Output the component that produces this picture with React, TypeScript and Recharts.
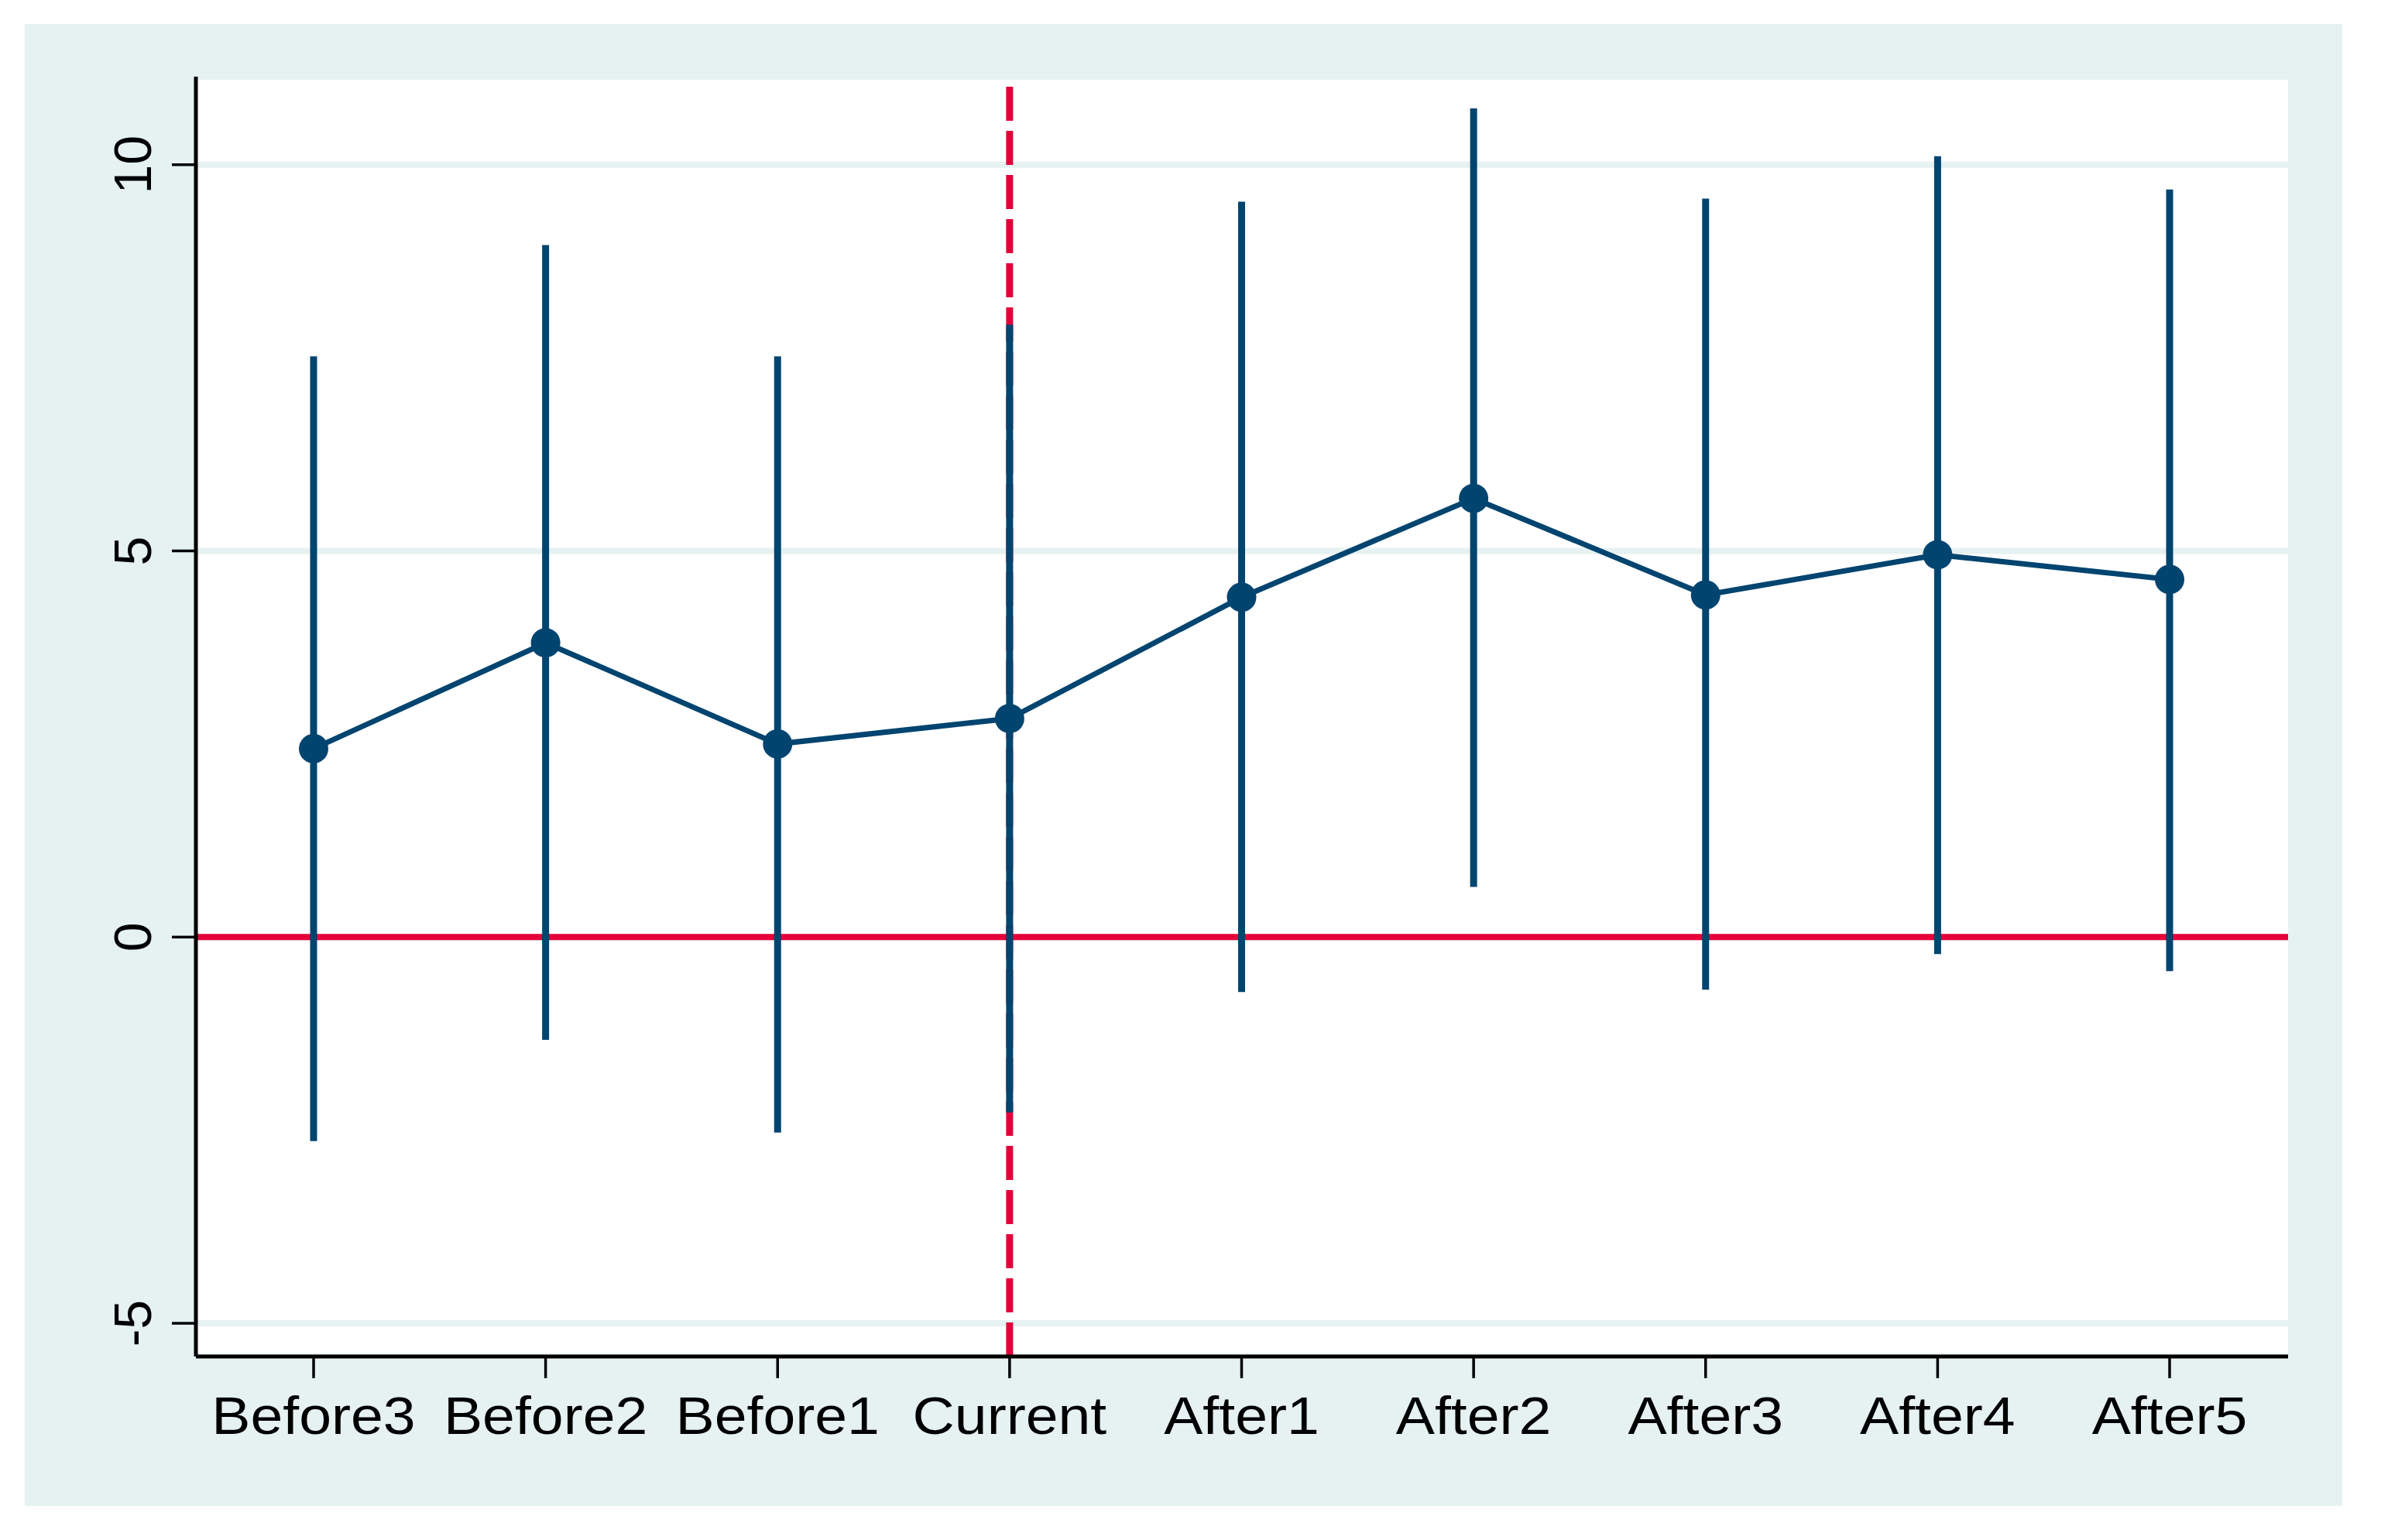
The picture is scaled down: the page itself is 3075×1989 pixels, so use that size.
import React from 'react';
import { LineChart, Line, XAxis, YAxis, CartesianGrid, ReferenceLine, ErrorBar } from 'recharts';

const periods = ['Before3', 'Before2', 'Before1', 'Current', 'After1', 'After2', 'After3', 'After4', 'After5'];
const coef = [2.44, 3.81, 2.5, 2.83, 4.4, 5.68, 4.43, 4.95, 4.63];
const ciLower = [-2.64, -1.33, -2.53, -2.27, -0.71, 0.65, -0.68, -0.22, -0.44];
const ciUpper = [7.52, 8.96, 7.52, 7.93, 9.52, 10.73, 9.56, 10.11, 9.68];
const yTicks = [-5, 0, 5, 10];
const yDomain = [-5.43, 11.14];
const eventPeriod = 'Current';

const data = periods.map((p, i) => ({
  period: p,
  coef: coef[i],
  ci: [coef[i] - ciLower[i], ciUpper[i] - coef[i]],
}));

const NAVY = '#004470';
const RED = '#E3003A';
const PANEL = '#E6F1F1';
const FONT = '"Liberation Sans", Arial, Helvetica, sans-serif';

const XTick = (props: any) => {
  const { x, y, payload } = props;
  return (
    <g transform={`translate(${x},${y})`}>
      <text transform="scale(1.09,1)" textAnchor="middle" dy="0.71em" fontSize={69} fill="#000" fontFamily={FONT}>
        {payload.value}
      </text>
    </g>
  );
};

const YTick = (props: any) => {
  const { x, y, payload } = props;
  return (
    <text x={x} y={y} transform={`rotate(-90 ${x} ${y})`} textAnchor="middle" fontSize={68} fill="#000" fontFamily={FONT}>
      {String(payload.value)}
    </text>
  );
};

export default function App() {
  return (
    <div style={{ position: 'absolute', left: 0, top: 0, width: 3075, height: 1989, background: '#fff' }}>
      <div style={{ position: 'absolute', left: 32, top: 31, width: 2993, height: 1914, background: PANEL }} />
      <div style={{ position: 'absolute', left: 0, top: 0 }}>
        <LineChart width={3075} height={1989} data={data} margin={{ top: 99, right: 120, bottom: 87, left: 0 }}>
          <CartesianGrid horizontal vertical={false} fill="#fff" stroke={PANEL} strokeWidth={8} />
          <ReferenceLine y={0} stroke={RED} strokeWidth={8} />
          <ReferenceLine x={eventPeriod} stroke={RED} strokeWidth={9} strokeDasharray="44 13" />
          <XAxis
            dataKey="period"
            padding={{ left: 152, right: 153 }}
            height={150}
            tickSize={28}
            tickMargin={23}
            interval={0}
            axisLine={{ stroke: '#000', strokeWidth: 5 }}
            tickLine={{ stroke: '#000', strokeWidth: 3.5 }}
            tick={<XTick />}
          />
          <YAxis
            type="number"
            width={253}
            domain={yDomain}
            ticks={yTicks}
            allowDataOverflow
            tickSize={31}
            tickMargin={27}
            axisLine={{ stroke: '#000', strokeWidth: 5 }}
            tickLine={{ stroke: '#000', strokeWidth: 3.5 }}
            tick={<YTick />}
          />
          <Line
            dataKey="coef"
            stroke={NAVY}
            strokeWidth={7}
            dot={{ r: 19, fill: NAVY, stroke: NAVY, strokeWidth: 0 }}
            activeDot={false}
            isAnimationActive={false}
          >
            <ErrorBar dataKey="ci" width={0} stroke={NAVY} strokeWidth={9} direction="y" isAnimationActive={false} />
          </Line>
        </LineChart>
      </div>
    </div>
  );
}
